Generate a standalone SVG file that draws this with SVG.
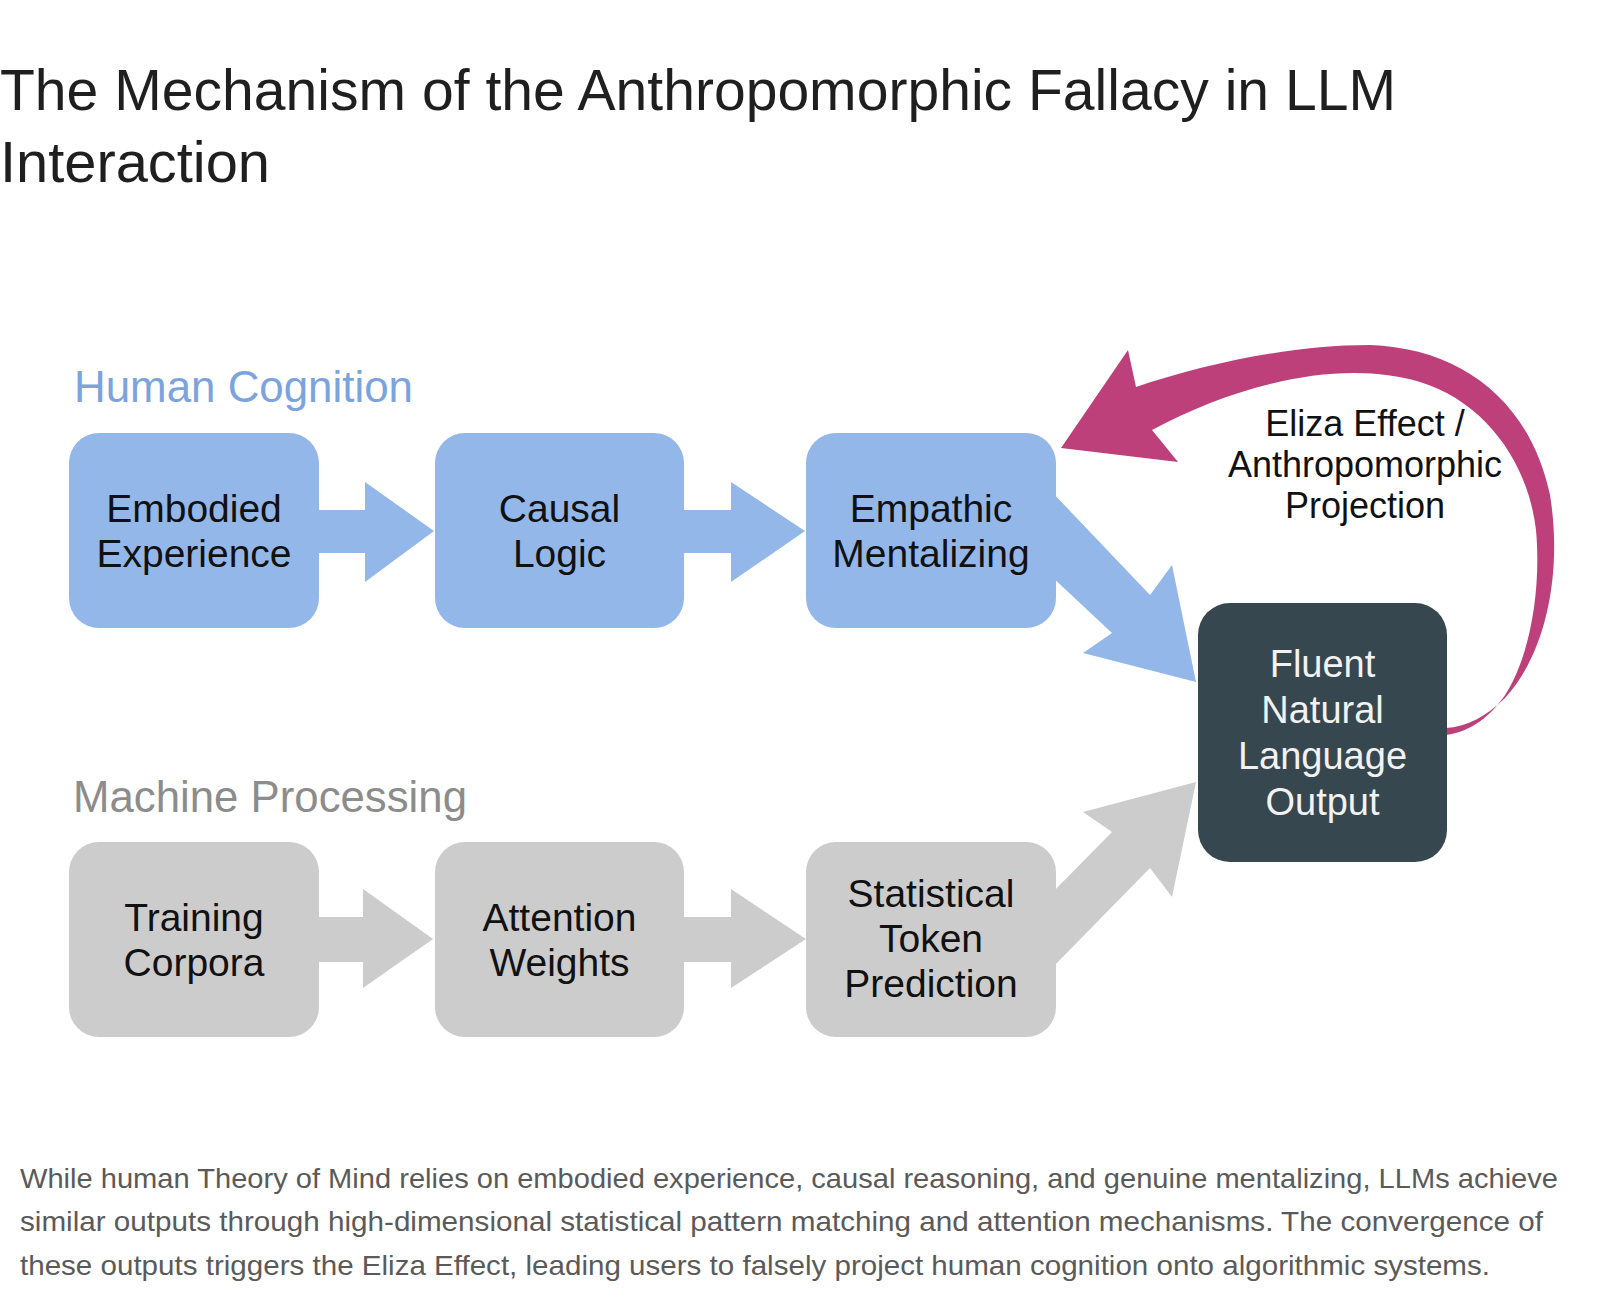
<svg xmlns="http://www.w3.org/2000/svg" width="1600" height="1298" viewBox="0 0 1600 1298">
<style>
.t{font-family:"Liberation Sans",Arial,sans-serif}
.title{font-size:57px;fill:#1f1f1f}
.lbl{font-size:44px}
.nt{font-size:39px;fill:#111;text-anchor:middle}
.dt{font-size:38px;fill:#f2f2f2;text-anchor:middle}
.et{font-size:36px;fill:#111;text-anchor:middle}
.cap{font-size:28px;fill:#5a5a5a}
.blue{fill:#94b7ea}
.grey{fill:#cccccc}
.dark{fill:#37474f}
.pink{fill:#be407a}
</style>
<rect width="1600" height="1298" fill="#ffffff"/>

<g id="title">
<text class="t title" x="0" y="110" textLength="1396" lengthAdjust="spacingAndGlyphs">The Mechanism of the Anthropomorphic Fallacy in LLM</text>
<text class="t title" x="0" y="182" textLength="270" lengthAdjust="spacingAndGlyphs">Interaction</text>
</g>

<g id="label-human">
<text class="t lbl" x="74" y="402" fill="#7ba3dc" textLength="339" lengthAdjust="spacingAndGlyphs">Human Cognition</text>
</g>
<g id="label-machine">
<text class="t lbl" x="73" y="812" fill="#8c8c8c" textLength="394" lengthAdjust="spacingAndGlyphs">Machine Processing</text>
</g>

<g id="connectors">
<!-- top row arrows -->
<polygon class="blue" points="318,510 365,510 365,482 434,531 365,582 365,553 318,553"/>
<polygon class="blue" points="683,510 731,510 731,482 805,531 731,582 731,553 683,553"/>
<!-- bottom row arrows -->
<polygon class="grey" points="318,917 363,917 363,889 433,939 363,988 363,962 318,962"/>
<polygon class="grey" points="682,917 731,917 731,889 806,939 731,988 731,962 682,962"/>
<!-- diagonal blue -->
<polygon class="blue" points="1050,490 1150,595 1172,565 1196,682 1083,653 1112,633 1050,575"/>
<!-- diagonal grey -->
<polygon class="grey" points="1050,970 1150,868 1172,897 1196,782 1083,812 1112,832 1050,895"/>
<!-- pink feedback arrow -->
<path class="pink" d="M1136,387 C1205,364 1290,345 1370,345 C1460,348 1530,400 1550,495 C1563,575 1545,655 1505,698 C1486,717 1466,727 1446,728 L1446,735 C1470,732 1492,716 1507,692 C1532,650 1541,585 1536,530 C1528,462 1485,402 1420,382 C1340,358 1235,385 1152,430 L1178,462 L1061,448 L1128,350 Z"/>
</g>

<g id="node-embodied">
<rect class="blue" x="69" y="433" width="250" height="195" rx="30"/>
<text class="t nt" x="194" y="522">Embodied</text>
<text class="t nt" x="194" y="567">Experience</text>
</g>
<g id="node-causal">
<rect class="blue" x="435" y="433" width="249" height="195" rx="30"/>
<text class="t nt" x="559.5" y="522">Causal</text>
<text class="t nt" x="559.5" y="567">Logic</text>
</g>
<g id="node-empathic">
<rect class="blue" x="806" y="433" width="250" height="195" rx="30"/>
<text class="t nt" x="931" y="522">Empathic</text>
<text class="t nt" x="931" y="567">Mentalizing</text>
</g>
<g id="node-training">
<rect class="grey" x="69" y="842" width="250" height="195" rx="30"/>
<text class="t nt" x="194" y="931">Training</text>
<text class="t nt" x="194" y="976">Corpora</text>
</g>
<g id="node-attention">
<rect class="grey" x="435" y="842" width="249" height="195" rx="30"/>
<text class="t nt" x="559.5" y="931">Attention</text>
<text class="t nt" x="559.5" y="976">Weights</text>
</g>
<g id="node-statistical">
<rect class="grey" x="806" y="842" width="250" height="195" rx="30"/>
<text class="t nt" x="931" y="907">Statistical</text>
<text class="t nt" x="931" y="952">Token</text>
<text class="t nt" x="931" y="997">Prediction</text>
</g>
<g id="node-output">
<rect class="dark" x="1198" y="603" width="249" height="259" rx="32"/>
<text class="t dt" x="1322.5" y="677">Fluent</text>
<text class="t dt" x="1322.5" y="723">Natural</text>
<text class="t dt" x="1322.5" y="769">Language</text>
<text class="t dt" x="1322.5" y="815">Output</text>
</g>
<g id="label-eliza">
<text class="t et" x="1365" y="436">Eliza Effect /</text>
<text class="t et" x="1365" y="477">Anthropomorphic</text>
<text class="t et" x="1365" y="518">Projection</text>
</g>

<g id="caption">
<text class="t cap" x="20" y="1188" textLength="1538" lengthAdjust="spacingAndGlyphs">While human Theory of Mind relies on embodied experience, causal reasoning, and genuine mentalizing, LLMs achieve</text>
<text class="t cap" x="20" y="1231" textLength="1523" lengthAdjust="spacingAndGlyphs">similar outputs through high-dimensional statistical pattern matching and attention mechanisms. The convergence of</text>
<text class="t cap" x="20" y="1275" textLength="1470" lengthAdjust="spacingAndGlyphs">these outputs triggers the Eliza Effect, leading users to falsely project human cognition onto algorithmic systems.</text>
</g>
</svg>
